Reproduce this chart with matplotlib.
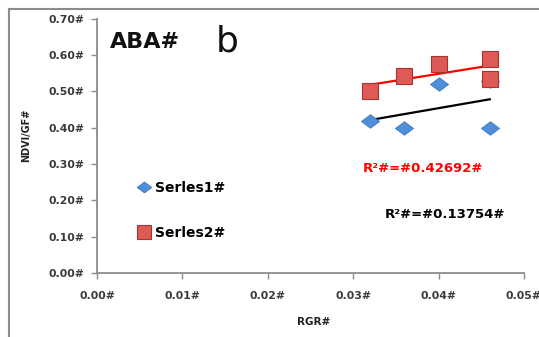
import numpy as np
import matplotlib
matplotlib.use("Agg")
import matplotlib.pyplot as plt
from matplotlib.lines import Line2D
from matplotlib.path import Path

# RGR (x) and NDVI/GF (y) for the two series
rgr = [0.032, 0.036, 0.040, 0.046, 0.046]
series1 = [0.42, 0.40, 0.52, 0.40, 0.53]
series2 = [0.50, 0.543, 0.576, 0.59, 0.534]

series_labels = ["Serles1#", "Serles2#"]
r2_labels = ["R\u00b2#=#0.13754#", "R\u00b2#=#0.42692#"]

x_ticks = [0.00, 0.01, 0.02, 0.03, 0.04, 0.05]
x_ticklabels = ["0.00#", "0.01#", "0.02#", "0.03#", "0.04#", "0.05#"]
y_ticks = [0.0, 0.1, 0.2, 0.3, 0.4, 0.5, 0.6, 0.7]
y_ticklabels = ["0.00#", "0.10#", "0.20#", "0.30#", "0.40#", "0.50#", "0.60#", "0.70#"]

plt.rcParams['font.family'] = ['DejaVu Sans']

fig = plt.figure(figsize=(5.39, 3.37), dpi=100)
ax = fig.add_axes([0.180, 0.190, 0.792, 0.754])

# wide, flat diamond marker
diamond = Path([(-1, 0), (0, 0.75), (1, 0), (0, -0.75), (-1, 0)],
               [Path.MOVETO, Path.LINETO, Path.LINETO, Path.LINETO, Path.CLOSEPOLY])

blue = "#4F8FDA"
red_face = "#DE5A56"
red_edge = "#A8332F"

x = np.array(rgr)
for ys, color in ((series1, "black"), (series2, "#FF0000")):
    k, b = np.polyfit(x, np.array(ys), 1)
    xs = np.array([x.min(), x.max()])
    ax.plot(xs, k * xs + b, color=color, lw=1.6, zorder=2)

ax.plot(rgr, series1, linestyle="none", marker=diamond, markersize=13,
        markerfacecolor=blue, markeredgecolor="#3F78C0", markeredgewidth=0.6,
        zorder=3, label=series_labels[0])
ax.plot(rgr, series2, linestyle="none", marker="s", markersize=12,
        markerfacecolor=red_face, markeredgecolor=red_edge, markeredgewidth=0.8,
        zorder=4, label=series_labels[1])

ax.set_xlim(0, 0.05)
ax.set_ylim(0, 0.70)
ax.set_xticks(x_ticks)
ax.set_xticklabels(x_ticklabels)
ax.set_yticks(y_ticks)
ax.set_yticklabels(y_ticklabels)

for s in ("top", "right"):
    ax.spines[s].set_visible(False)
for s in ("left", "bottom"):
    ax.spines[s].set_color("#8C8C8C")
    ax.spines[s].set_linewidth(1.3)
ax.tick_params(direction="out", length=4, width=1.0, color="#8C8C8C",
               labelsize=7.8, labelcolor="#3A3A3A", pad=5)
ax.tick_params(axis="x", pad=9)
for lab in ax.get_xticklabels() + ax.get_yticklabels():
    lab.set_fontweight("bold")

ax.set_xlabel("RGR#", fontsize=7.5, fontweight="bold", color="#222222")
ax.xaxis.set_label_coords(0.508, -0.175)
ax.set_ylabel("NDVI/GF#", fontsize=7, fontweight="bold", color="#222222")
ax.yaxis.set_label_coords(-0.155, 0.54)

# legend inside the plot area
leg = ax.legend(loc="upper left", bbox_to_anchor=(0.077, 0.39), frameon=False,
                prop={"size": 10, "weight": "bold"}, labelspacing=2.25,
                handletextpad=0.3, handlelength=1.0, borderpad=0,
                markerscale=0.8)

# trendline R² labels
ax.text(0.0311, 0.289, r2_labels[1], color="#FF0000", fontsize=9.5,
        fontweight="bold", va="center", ha="left")
ax.text(0.0337, 0.160, r2_labels[0], color="black", fontsize=9.5,
        fontweight="bold", va="center", ha="left")

# panel titles
fig.text(110 / 539, 1 - 42 / 337, "ABA#", fontsize=16, fontweight="bold",
         va="center", ha="left", color="#111111")
fig.text(216 / 539, 1 - 42 / 337, "b", fontsize=26, va="center", ha="left",
         color="#111111")

# chart area border
fig.add_artist(Line2D([8.5 / 539, 8.5 / 539], [0, 1 - 9 / 337],
                      transform=fig.transFigure, color="#8C8C8C", lw=1.5))
fig.add_artist(Line2D([8.5 / 539, 1], [1 - 9 / 337, 1 - 9 / 337],
                      transform=fig.transFigure, color="#8C8C8C", lw=1.5))

fig.savefig("out.png", dpi=100)
